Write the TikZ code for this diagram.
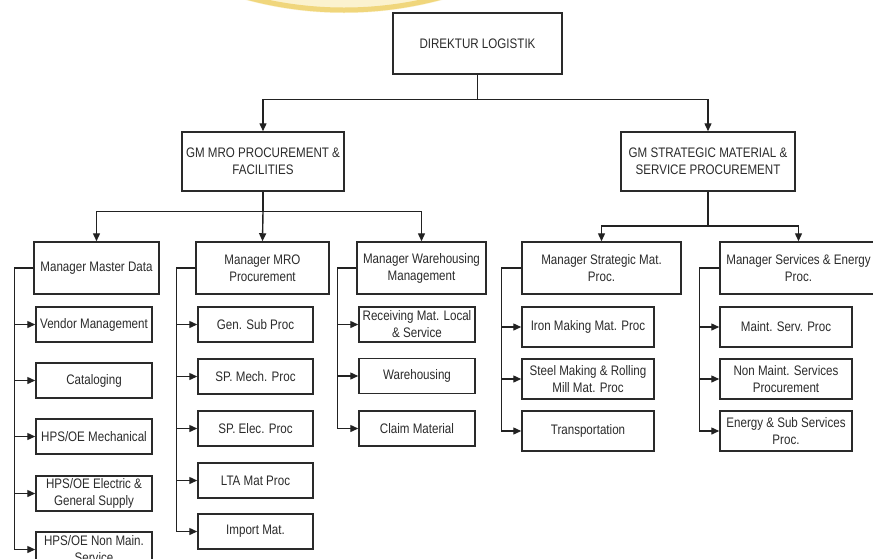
\documentclass[tikz,border=0pt]{standalone}
\usepackage{fontspec}
\setmainfont{Liberation Sans}[FakeStretch=0.84]
\usetikzlibrary{arrows.meta}
\definecolor{linec}{HTML}{222222}
\definecolor{boxc}{HTML}{2A2A2A}
\definecolor{txt}{HTML}{2B2B2B}
\definecolor{sealring}{HTML}{F0D67C}
\definecolor{sealfill}{HTML}{FBF2CF}
\tikzset{
  box/.style={draw=boxc, line width=1.5pt, align=center, inner sep=0pt,
    text=txt, font=\fontsize{13.8}{17}\selectfont},
  link/.style={draw=linec, line width=1.4pt},
  arr/.style={link, -{Triangle[length=8pt,width=7pt]}},
}
\begin{document}
\begin{tikzpicture}[x=1pt, y=-1pt]
\useasboundingbox (0,0) rectangle (873,558);
\fill[white] (0,0) rectangle (873,558);

% faint seal in the top margin
\begin{scope}
  \clip (0,0) rectangle (873,558);
  \fill[sealfill] (344,-362) circle (375);
  \draw[sealring, line width=5pt] (344,-362) circle (372);
\end{scope}

% top level
\node[box, minimum width=169, minimum height=61] (dir) at (477.5,43.5) {DIREKTUR LOGISTIK};

% general managers
\node[box, minimum width=162, minimum height=59] (gm1) at (263,161.5) {GM MRO PROCUREMENT \&\\FACILITIES};
\node[box, minimum width=174, minimum height=59] (gm2) at (708,161.5) {GM STRATEGIC MATERIAL \&\\SERVICE PROCUREMENT};

% managers
\node[box, minimum width=125, minimum height=52] (m1) at (96.5,268) {Manager Master Data};
\node[box, minimum width=133, minimum height=52] (m2) at (262.5,268) {Manager MRO\\Procurement};
\node[box, minimum width=129, minimum height=52] (m3) at (421.5,268) {Manager Warehousing\\Management};
\node[box, minimum width=159, minimum height=52] (m4) at (601.5,268) {Manager Strategic Mat.\\Proc.};
\node[box, minimum width=157, minimum height=52] (m5) at (798.5,268) {Manager Services \& Energy\\Proc.};

% master data units
\node[box, minimum width=116, minimum height=35] (a1) at (94,324.5) {Vendor Management};
\node[box, minimum width=116, minimum height=35] (a2) at (94,380.5) {Cataloging};
\node[box, minimum width=116, minimum height=35] (a3) at (94,436.5) {HPS/OE Mechanical};
\node[box, minimum width=116, minimum height=35] (a4) at (94,493.5) {HPS/OE Electric \&\\General Supply};
\node[box, minimum width=116, minimum height=35] (a5) at (94,549.5) {HPS/OE Non Main.\\Service};

% MRO procurement units
\node[box, minimum width=115, minimum height=35] (b1) at (255.5,324.5) {Gen. Sub Proc};
\node[box, minimum width=115, minimum height=35] (b2) at (255.5,376.5) {SP. Mech. Proc};
\node[box, minimum width=115, minimum height=35] (b3) at (255.5,428.5) {SP. Elec. Proc};
\node[box, minimum width=115, minimum height=35] (b4) at (255.5,480.5) {LTA Mat Proc};
\node[box, minimum width=115, minimum height=35] (b5) at (255.5,531.5) {Import Mat.};

% warehousing units
\node[box, minimum width=116, minimum height=35] (c1) at (417,324.5) {Receiving Mat. Local\\\& Service};
\node[box, minimum width=116, minimum height=35] (c2) at (417,376) {Warehousing};
\node[box, minimum width=116, minimum height=35] (c3) at (417,428.5) {Claim Material};

% strategic material units
\node[box, minimum width=132, minimum height=40] (d1) at (588,327) {Iron Making Mat. Proc};
\node[box, minimum width=132, minimum height=40] (d2) at (588,379) {Steel Making \& Rolling\\Mill Mat. Proc};
\node[box, minimum width=132, minimum height=40] (d3) at (588,431) {Transportation};

% services and energy units
\node[box, minimum width=132, minimum height=40] (e1) at (786,327) {Maint. Serv. Proc};
\node[box, minimum width=132, minimum height=40] (e2) at (786,379) {Non Maint. Services\\Procurement};
\node[box, minimum width=132, minimum height=40] (e3) at (786,431) {Energy \& Sub Services\\Proc.};

% junctions of the tree
\coordinate (j0) at (477.5,99.5);
\coordinate (j1) at (263,211.5);
\coordinate (j2) at (708,226);

\draw[link] (dir.south) -- (j0);
\draw[arr] (j0) -| (gm1.north);
\draw[arr] (j0) -| (gm2.north);

\draw[link] (gm1.south) -- (j1);
\draw[arr] (j1) -| (m1.north);
\draw[arr] (j1) -- (m2.north);
\draw[arr] (j1) -| (m3.north);

\draw[link] (gm2.south) -- (j2);
\draw[arr] (j2) -| (m4.north);
\draw[arr] (j2) -| (m5.north);

% side trunks from each manager to its units
\foreach \u in {a1,a2,a3,a4,a5} \draw[arr] (m1.west) -- ++(-19,0) |- (\u.west);
\foreach \u in {b1,b2,b3,b4,b5} \draw[arr] (m2.west) -- ++(-19,0) |- (\u.west);
\foreach \u in {c1,c2,c3} \draw[arr] (m3.west) -- ++(-19,0) |- (\u.west);
\foreach \u in {d1,d2,d3} \draw[arr] (m4.west) -- ++(-20,0) |- (\u.west);
\foreach \u in {e1,e2,e3} \draw[arr] (m5.west) -- ++(-20,0) |- (\u.west);
\end{tikzpicture}
\end{document}
